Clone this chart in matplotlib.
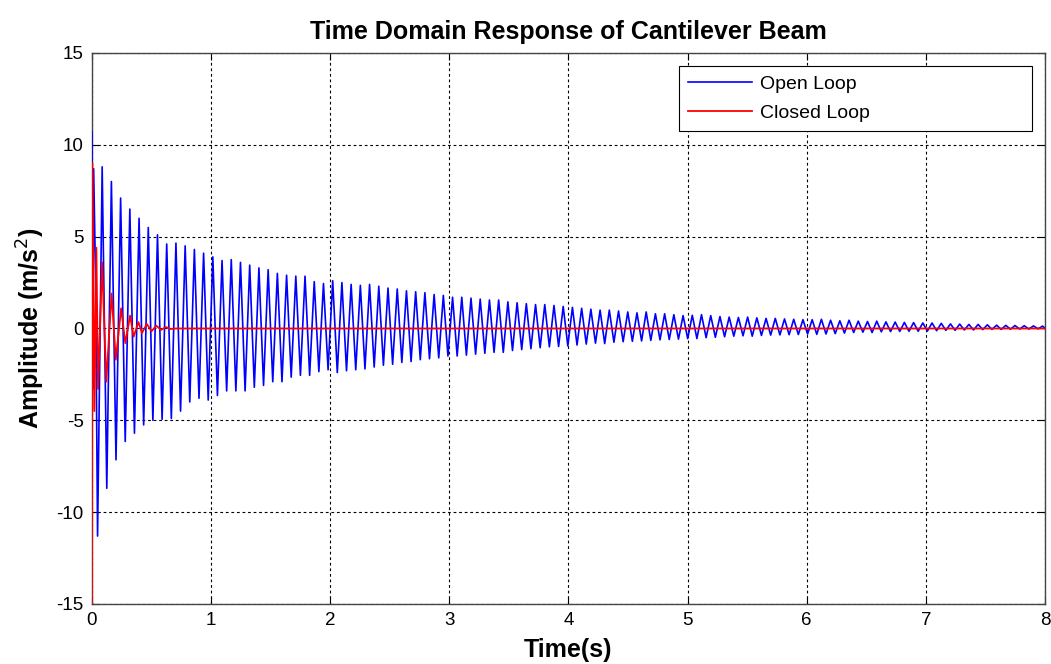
import numpy as np
import matplotlib
matplotlib.use("Agg")
import matplotlib.pyplot as plt

# ---- data ----
# open loop: first few irregular points right after t=0
open_head_t = [0.000, 0.006, 0.014, 0.030]
open_head_v = [10.7, -3.3, 8.7, 2.9]

# open loop: one lower and one upper peak per cycle
open_t0 = 0.047        # time of first lower peak (s)
open_period = 0.0774   # period of the oscillation (s)
open_lower = [
    -11.3, -8.7, -7.15, -6.15, -5.7, -5.25, -5.0, -4.95, -4.9, -4.5, -4.0, -3.8, -3.9,
    -3.65, -3.4, -3.4, -3.4, -3.2, -3.1, -2.9, -2.9, -2.65, -2.55, -2.55, -2.35, -2.25,
    -2.4, -2.3, -2.25, -2.2, -2.1, -2.0, -1.95, -1.85, -1.8, -1.7, -1.65, -1.6, -1.5,
    -1.5, -1.45, -1.4, -1.35, -1.3, -1.3, -1.2, -1.15, -1.1, -1.05, -1.0, -0.98, -0.95,
    -0.9, -0.85, -0.8, -0.82, -0.75, -0.72, -0.7, -0.68, -0.65, -0.62, -0.6, -0.58, -0.55,
    -0.55, -0.5, -0.48, -0.45, -0.42, -0.4, -0.42, -0.38, -0.36, -0.35, -0.34, -0.33, -0.3,
    -0.32, -0.3, -0.28, -0.25, -0.22, -0.2, -0.22, -0.18, -0.17, -0.16, -0.15, -0.15, -0.14,
    -0.12, -0.1, -0.1, -0.08, -0.08, -0.06, -0.05, -0.05, -0.04, -0.03, -0.03, -0.02,
]
open_upper = [
    8.8, 8.0, 7.1, 6.5, 6.0, 5.5, 5.1, 4.6, 4.65, 4.5, 4.3, 4.1, 3.9,
    3.7, 3.75, 3.6, 3.45, 3.3, 3.2, 3.0, 2.9, 2.85, 2.85, 2.55, 2.45, 2.6,
    2.5, 2.4, 2.35, 2.4, 2.3, 2.2, 2.15, 2.05, 2.0, 1.95, 1.85, 1.8, 1.7,
    1.7, 1.65, 1.6, 1.55, 1.55, 1.45, 1.4, 1.35, 1.3, 1.3, 1.25, 1.2, 1.15,
    1.1, 1.05, 1.0, 1.0, 0.95, 0.9, 0.85, 0.9, 0.8, 0.8, 0.75, 0.7, 0.72,
    0.75, 0.7, 0.65, 0.62, 0.6, 0.62, 0.58, 0.55, 0.55, 0.52, 0.5, 0.48, 0.48,
    0.5, 0.45, 0.42, 0.45, 0.4, 0.38, 0.4, 0.36, 0.35, 0.33, 0.32, 0.3, 0.3,
    0.28, 0.25, 0.24, 0.22, 0.22, 0.2, 0.18, 0.17, 0.16, 0.15, 0.14, 0.13,
]

# closed loop extrema (time, value)
closed_t = [0.000, 0.004, 0.020, 0.037, 0.051, 0.085, 0.120, 0.165, 0.200, 0.245,
            0.280, 0.320, 0.350, 0.390, 0.420, 0.460, 0.500, 0.540, 0.580, 0.620,
            0.660, 0.700, 8.000]
closed_v = [-15.0, 9.0, -4.5, 4.4, -3.3, 3.6, -2.9, 1.9, -1.7, 1.1,
            -0.8, 0.7, -0.45, 0.35, -0.25, 0.25, -0.15, 0.15, -0.08, 0.08,
            -0.03, 0.0, 0.0]

x_ticks = [0, 1, 2, 3, 4, 5, 6, 7, 8]
y_ticks = [-15, -10, -5, 0, 5, 10, 15]

# build the open loop trace: head points, then lower/upper peak of each cycle
open_t = list(open_head_t)
open_v = list(open_head_v)
for k in range(len(open_lower)):
    open_t += [open_t0 + k * open_period, open_t0 + (k + 0.5) * open_period]
    open_v += [open_lower[k], open_upper[k]]
open_t.append(8.0)
open_v.append(0.0)

plt.rcParams['font.family'] = ['Liberation Sans', 'DejaVu Sans']
plt.rcParams['axes.unicode_minus'] = False

fig = plt.figure(figsize=(10.51, 6.64), dpi=100)
ax = fig.add_axes([0.0875, 0.0904, 0.9068, 0.8298])

ax.plot(open_t, open_v, color='#0000ff', lw=1.2, label='Open Loop', zorder=3)
ax.plot(closed_t, closed_v, color='#ff0000', lw=1.3, label='Closed Loop', zorder=3)

ax.set_xlim(0, 8)
ax.set_ylim(-15, 15)
ax.set_xticks(x_ticks)
ax.set_yticks(y_ticks)
ax.tick_params(direction='in', length=5, width=0.8, top=True, right=True,
               labelsize=13.5, pad=6, colors='black')
ax.grid(True, color='black', linestyle=(0, (2.5, 2.5)), linewidth=0.8)
for s in ax.spines.values():
    s.set_linewidth(1.0)
    s.set_color('#444444')

ax.set_title('Time Domain Response of Cantilever Beam', fontsize=18,
             fontweight='bold', pad=10)
ax.set_xlabel('Time(s)', fontsize=18, fontweight='bold', labelpad=6)
ax.set_ylabel('Amplitude (m/s$^2$)', fontsize=18, fontweight='bold', labelpad=7)

leg = ax.legend(loc='upper left', bbox_to_anchor=(0.616, 0.858, 0.3704, 0.118),
                mode='expand', fontsize=14, handlelength=3.3, handletextpad=0.4,
                fancybox=False, framealpha=1, edgecolor='black', borderaxespad=0,
                borderpad=0.45, labelspacing=0.6)
leg.get_frame().set_linewidth(0.8)

fig.savefig('out.png', dpi=100)
